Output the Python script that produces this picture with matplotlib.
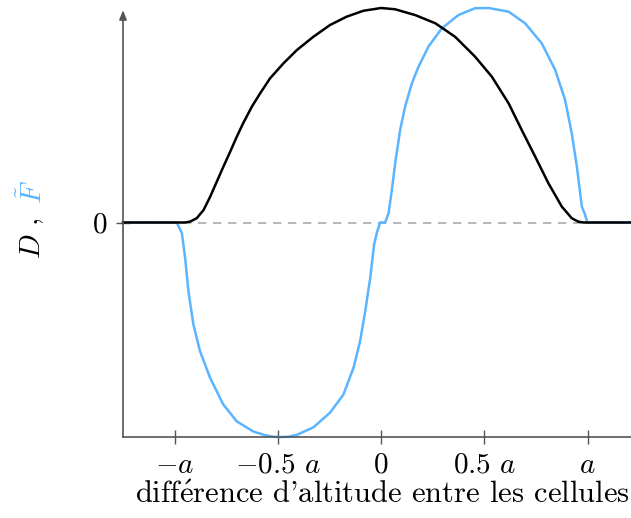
import matplotlib.pyplot as plt

plt.rcParams['mathtext.fontset'] = 'cm'
plt.rcParams['font.family'] = ['cmr10', 'DejaVu Serif']
plt.rcParams['axes.unicode_minus'] = False

# D (black), a = 1
d_x = [-1.25, -0.95, -0.925, -0.893, -0.860, -0.828, -0.796, -0.764, -0.731, -0.699, -0.667,
       -0.626, -0.586, -0.538, -0.473, -0.408, -0.328, -0.247, -0.166, -0.086, 0.0,
       0.068, 0.165, 0.262, 0.358, 0.455, 0.536, 0.617, 0.681, 0.746, 0.810, 0.875,
       0.923, 0.955, 0.98, 1.21]
d_y = [0.0, 0.0, 0.004, 0.02, 0.058, 0.12, 0.19, 0.26, 0.33, 0.40, 0.465,
       0.54, 0.602, 0.672, 0.742, 0.804, 0.866, 0.921, 0.96, 0.987, 1.0,
       0.994, 0.967, 0.929, 0.866, 0.773, 0.680, 0.556, 0.431, 0.307, 0.183, 0.074,
       0.02, 0.004, 0.0, 0.0]

# F tilde (blue)
f_x = [-1.25, -0.99, -0.965, -0.949, -0.933, -0.909, -0.877, -0.828, -0.764, -0.699, -0.618,
       -0.56, -0.52, -0.489, -0.45, -0.408, -0.328, -0.247, -0.183, -0.134, -0.102, -0.077,
       -0.053, -0.034, -0.021, -0.005, 0.019, 0.036, 0.052, 0.068, 0.092, 0.116, 0.149,
       0.181, 0.229, 0.294, 0.374, 0.455, 0.520, 0.617, 0.697, 0.778, 0.843, 0.891,
       0.923, 0.948, 0.972, 0.985, 0.999, 1.21]
f_y = [0.0, 0.0, -0.049, -0.166, -0.321, -0.476, -0.60, -0.725, -0.849, -0.927, -0.975,
       -0.992, -0.999, -1.0, -0.999, -0.99, -0.955, -0.886, -0.803, -0.678, -0.554, -0.414,
       -0.259, -0.103, -0.049, 0.0, 0.0, 0.043, 0.152, 0.276, 0.431, 0.54, 0.649,
       0.726, 0.82, 0.905, 0.967, 0.999, 1.0, 0.983, 0.929, 0.835, 0.711, 0.571,
       0.416, 0.26, 0.074, 0.043, 0.0, 0.0]

tick_pos = [-1, -0.5, 0, 0.5, 1]
tick_lab = [r'$-a$', r'$-0.5$ $a$', r'$0$', r'$0.5$ $a$', r'$a$']

blue = '#5AB4FF'
gray = '#555555'

fig = plt.figure(figsize=(6.31, 5.18), dpi=100)
ax = fig.add_axes([123 / 631, 81 / 518, 508 / 631, 429 / 518])

ax.axhline(0, color='#aaaaaa', lw=1.2, dashes=(5, 4), zorder=1)
ax.plot(f_x, f_y, color=blue, lw=1.8, zorder=2, clip_on=False)
ax.plot(d_x, d_y, color='black', lw=1.8, zorder=3, clip_on=False)

ax.set_xlim(-1.25, 1.21)
ax.set_ylim(-1.0, 1.0)

for s in ['top', 'right', 'left']:
    ax.spines[s].set_visible(False)
ax.spines['bottom'].set_color(gray)
ax.spines['bottom'].set_linewidth(1.2)
ax.annotate('', xy=(0, 0.995), xytext=(0, 0), xycoords='axes fraction',
            arrowprops=dict(arrowstyle='-|>,head_length=0.55,head_width=0.22',
                            color=gray, lw=1.2, shrinkA=0, shrinkB=0))

ax.set_xticks(tick_pos)
ax.set_xticklabels(tick_lab)
ax.set_yticks([0])
ax.set_yticklabels([r'$0$'])
ax.tick_params(direction='inout', length=10, width=1, color=gray, labelsize=21, pad=6)

ax.set_xlabel(r"diff$\acute{\mathrm{e}}$rence d'altitude entre les cellules", fontsize=22)
ax.xaxis.set_label_coords(0.51, -0.103)

yt = ax.get_yaxis_transform()
ax.text(-0.177, -0.11, r'$D$', transform=yt, rotation=90, fontsize=21, ha='center', va='center')
ax.text(-0.177, 0.0, r'$,$', transform=yt, rotation=90, fontsize=21, ha='center', va='center')
ax.text(-0.177, 0.14, r'$\tilde{F}$', transform=yt, rotation=90, fontsize=21, ha='center',
        va='center', color=blue)

fig.savefig('out.png', dpi=100)
